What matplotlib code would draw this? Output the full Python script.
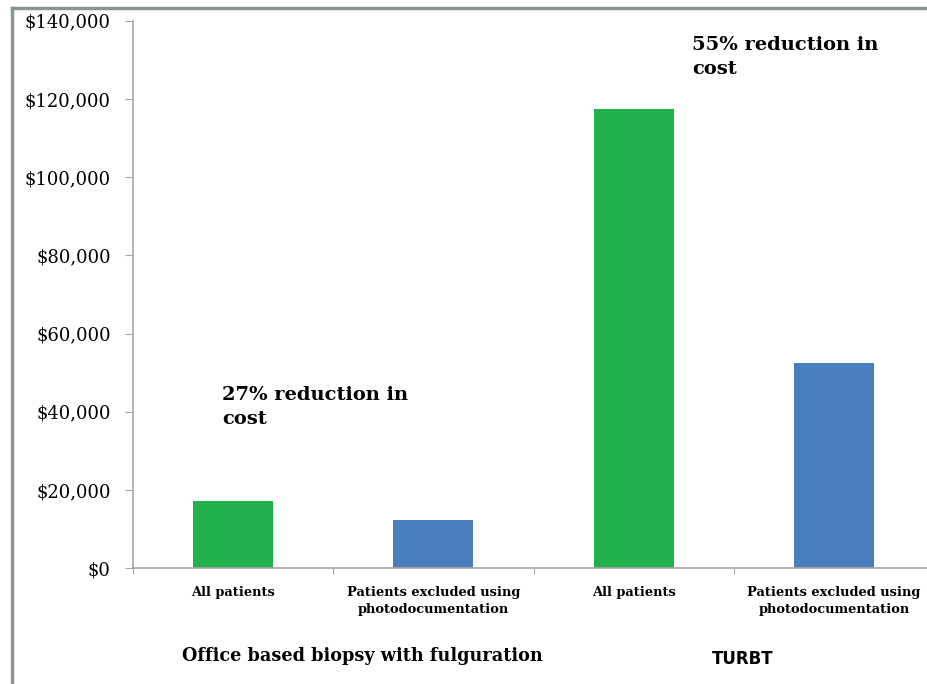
import matplotlib.pyplot as plt
from matplotlib.lines import Line2D
from matplotlib.ticker import FuncFormatter, MultipleLocator

W, H = 927, 684

categories = ["All patients", "Patients excluded using\nphotodocumentation",
              "All patients", "Patients excluded using\nphotodocumentation"]
costs = [17100, 12400, 117400, 52600]
bar_colors = ["#22b14c", "#4a7fbf", "#22b14c", "#4a7fbf"]
groups = ["Office based biopsy with fulguration", "TURBT"]
notes = ["27% reduction in\ncost", "55% reduction in\ncost"]


def px(x, y):
    return x / W, 1 - y / H


fig = plt.figure(figsize=(W / 100, H / 100), dpi=100)
ax = fig.add_axes([133 / W, 1 - 568.3 / H, 801 / W, 547.6 / H])

xs = range(len(costs))
ax.bar(xs, costs, width=0.4, color=bar_colors, edgecolor="none", zorder=2)

ax.set_xlim(-0.5, 3.5)
ax.set_ylim(0, 140000)
ax.yaxis.set_major_locator(MultipleLocator(20000))
ax.yaxis.set_major_formatter(FuncFormatter(lambda v, _: f"${v:,.0f}"))

# category boundaries get the small tick marks, labels sit at the centres
ax.set_xticks([-0.5, 0.5, 1.5, 2.5, 3.5])
ax.set_xticklabels([])
ax.set_xticks(list(xs), minor=True)
ax.set_xticklabels(categories, minor=True, family="DejaVu Serif",
                   fontweight="bold", fontsize=9.4, linespacing=1.35)
ax.tick_params(axis="x", which="major", length=4, color="#a6a6a6")
ax.tick_params(axis="x", which="minor", length=0, pad=13)
ax.tick_params(axis="y", length=6, color="#a6a6a6", pad=10)
for lbl in ax.get_yticklabels():
    lbl.set_family("DejaVu Serif")
    lbl.set_fontsize(13)

for side in ("top", "right"):
    ax.spines[side].set_visible(False)
for side in ("left", "bottom"):
    ax.spines[side].set_color("#a6a6a6")
    ax.spines[side].set_linewidth(1.2)

note_style = dict(family="DejaVu Serif", fontweight="bold", fontsize=14,
                  ha="left", va="top", linespacing=1.45)
fig.text(*px(222, 386), notes[0], **note_style)
fig.text(*px(692, 36), notes[1], **note_style)

fig.text(*px(362, 656), groups[0], family="DejaVu Serif", fontweight="bold",
         fontsize=12.7, ha="center", va="center")
fig.text(*px(743, 659), groups[1], family="DejaVu Sans", fontweight="bold",
         fontsize=12, ha="center", va="center")

# slide frame along the left and top edges
frame = "#8c9690"
fig.add_artist(Line2D([12 / W, 12 / W], [0, 1 - 8 / H], color=frame, lw=2.5,
                      transform=fig.transFigure))
fig.add_artist(Line2D([12 / W, 1], [1 - 8 / H, 1 - 8 / H], color=frame, lw=2.5,
                      transform=fig.transFigure))

fig.savefig("out.png", dpi=100)
